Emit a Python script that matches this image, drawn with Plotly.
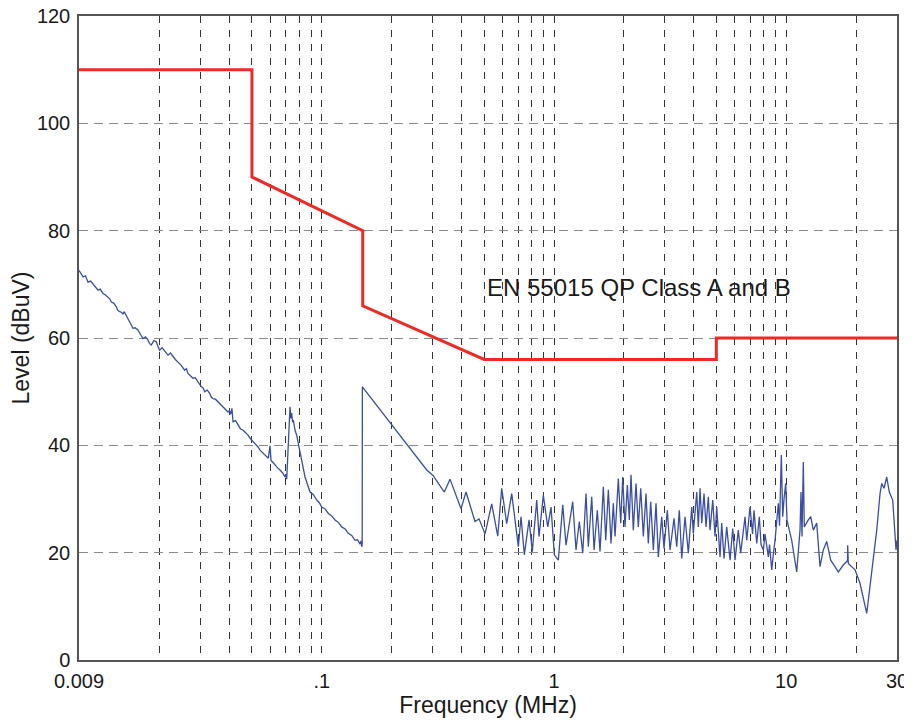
import plotly.graph_objects as go

# EN 55015 quasi-peak limit line
limit_freq = [0.009, 0.05, 0.05, 0.15, 0.15, 0.5, 5, 5, 30]
limit_level = [110, 110, 90, 80, 66, 56, 56, 60, 60]

# Measured conducted emission (MHz, dBuV)
meas_freq = [
    0.0090, 0.00915, 0.00937, 0.0096, 0.00984, 0.0101, 0.01034, 0.0106, 0.01087, 0.0111,
    0.01142, 0.0117, 0.0120, 0.0122, 0.01240, 0.0127, 0.01303, 0.0132, 0.01347, 0.0137,
    0.01392, 0.0141, 0.01438, 0.0146, 0.01488, 0.0151, 0.01537, 0.0157, 0.01615, 0.0166,
    0.01698, 0.0174, 0.01784, 0.0181, 0.01843, 0.0189, 0.01936, 0.0197, 0.02002, 0.0205,
    0.02104, 0.0214, 0.02175, 0.0223, 0.02285, 0.0234, 0.02402, 0.0248, 0.02566, 0.0261,
    0.02652, 0.0271, 0.02787, 0.0285, 0.02929, 0.0298, 0.03027, 0.0308, 0.03131, 0.0321,
    0.03290, 0.0334, 0.03400, 0.0348, 0.03573, 0.0366, 0.03754, 0.0385, 0.03945, 0.0400,
    0.04053, 0.0410, 0.04146, 0.0425, 0.04357, 0.0446, 0.04578, 0.0469, 0.04811, 0.0493,
    0.05055, 0.0518, 0.05312, 0.05418, 0.0556, 0.05694, 0.0579, 0.05883, 0.05983, 0.06042,
    0.0616, 0.06285, 0.0645, 0.06607, 0.0677, 0.06942, 0.0700, 0.07060, 0.07174, 0.07295,
    0.07360, 0.07420, 0.0748, 0.07539, 0.07667, 0.0780, 0.07922, 0.0806, 0.08194, 0.0833,
    0.08465, 0.0866, 0.08897, 0.0920, 0.09506, 0.0975, 0.0999, 0.1030, 0.1067, 0.1100,
    0.1140, 0.1180, 0.1218, 0.1260, 0.1300, 0.1345, 0.1390, 0.1425, 0.1461, 0.1475,
    0.1485, 0.1492, 0.1495,
    0.2830, 0.3012, 0.3369, 0.3565, 0.3977, 0.4178, 0.4567, 0.4753, 0.5045, 0.5391,
    0.5723, 0.5952, 0.6256, 0.6574, 0.7019, 0.7209, 0.7449, 0.7806, 0.8063, 0.8424,
    0.8617, 0.8993, 0.9395, 0.9707, 1.003,
    1.0436, 1.0902, 1.1263, 1.2036, 1.2439, 1.2851, 1.3291, 1.3734, 1.4052, 1.4535,
    1.4869, 1.5361, 1.5779, 1.6308, 1.6701, 1.7136, 1.7600, 1.8006, 1.8311, 1.8920,
    1.9377, 1.9764, 2.0219, 2.0685, 2.1099, 2.1457, 2.1952, 2.2545, 2.3067, 2.3625,
    2.4242, 2.4900, 2.5474, 2.6091, 2.6772, 2.7497, 2.8131, 2.9093, 2.9764, 3.0754,
    3.1594, 3.2870, 3.3761, 3.4644, 3.5481, 3.6661, 3.7880, 3.9174, 3.9802, 4.1171,
    4.1823, 4.2541, 4.3262, 4.4259, 4.5144, 4.6185, 4.6968, 4.8249, 4.9361, 5.0198,
    5.1866, 5.2746, 5.3962, 5.5424, 5.7280, 5.8832, 6.0189, 6.2189, 6.3680, 6.6467,
    6.7593, 6.9842, 7.1601, 7.2665, 7.4639, 7.6590, 7.7889, 7.9687, 8.1037, 8.3733,
    8.4742, 8.6616, 8.8166, 8.9495, 9.2470, 9.3583, 9.5260, 9.6587, 9.7836, 9.9496,
    10.079, 10.209, 10.561, 11.096, 11.465, 11.579, 11.695, 11.846, 11.964, 12.449,
    12.750, 13.083, 13.530, 13.980, 14.446, 14.941, 15.544, 16.221, 16.763, 17.615,
    18.365, 18.399, 18.508, 19.784, 20.786, 22.219, 23.349, 24.537, 25.354, 25.783,
    26.377, 27.092, 27.797, 28.750, 29.707, 30.0,
]
meas_level = [
    72.6, 72.0, 71.4, 71.6, 70.4, 70.6, 70.0, 69.6, 68.9, 69.1,
    68.3, 68.0, 67.5, 67.3, 66.7, 66.5, 65.8, 65.2, 64.9, 64.8,
    64.5, 64.9, 64.2, 63.6, 63.0, 62.4, 61.8, 61.9, 61.5, 60.6,
    59.9, 60.2, 59.6, 59.0, 58.7, 59.5, 59.3, 58.4, 57.7, 58.2,
    57.6, 57.0, 56.8, 57.2, 56.5, 56.0, 55.5, 54.9, 54.0, 54.3,
    53.4, 53.0, 52.5, 52.6, 51.8, 51.5, 50.9, 50.7, 50.0, 50.3,
    49.7, 49.0, 48.7, 48.6, 48.1, 47.5, 47.2, 46.6, 46.2, 46.5,
    45.8, 46.9, 44.4, 44.6, 43.8, 43.1, 42.8, 42.4, 41.9, 41.2,
    40.7, 40.3, 39.7, 39.1, 38.6, 38.2, 37.9, 37.6, 39.9, 37.2,
    36.8, 36.3, 35.8, 35.4, 34.9, 34.1, 34.6, 33.7, 40.3, 47.2,
    45.0, 46.0, 44.3, 44.7, 42.8, 41.8, 40.3, 38.8, 37.2, 35.5,
    34.1, 32.8, 31.3, 30.8, 29.8, 29.3, 28.5, 28.2, 27.3, 26.9,
    26.1, 25.6, 24.8, 24.4, 23.6, 23.2, 22.3, 22.4, 21.6, 22.2,
    21.1, 21.5, 50.9,
    35.4, 34.4, 31.3, 33.7, 28.2, 31.3, 25.8, 26.3, 23.5, 29.1,
    23.1, 32.0, 25.4, 31.0, 21.1, 26.7, 19.6, 26.1, 20.2, 29.8,
    23.0, 30.7, 24.8, 28.5, 19.6,
    18.6, 28.9, 21.4, 29.5, 20.5, 25.8, 19.9, 31.0, 21.1, 30.4,
    20.5, 27.9, 20.2, 32.3, 22.3, 31.7, 21.7, 29.2, 23.0, 33.8,
    25.5, 34.1, 24.8, 32.6, 26.1, 34.5, 24.2, 32.9, 24.8, 32.0,
    23.0, 31.0, 21.7, 29.5, 20.5, 29.2, 19.2, 26.7, 20.8, 27.9,
    20.5, 26.4, 21.1, 27.9, 18.9, 26.7, 19.9, 28.5, 23.6, 31.3,
    24.8, 32.0, 25.5, 31.0, 24.8, 30.4, 24.2, 29.8, 23.0, 28.5,
    19.2, 25.5, 18.9, 24.8, 18.6, 24.5, 18.6, 24.2, 19.9, 26.7,
    22.3, 28.5, 23.5, 27.9, 21.7, 26.7, 21.5, 20.5, 23.5, 19.2,
    21.5, 16.8, 20.0, 22.3, 29.2, 25.0, 38.2, 26.7, 30.0, 32.9,
    26.0, 24.8, 22.3, 16.4, 24.2, 31.3, 23.0, 36.9, 24.8, 26.1,
    26.7, 24.2, 25.5, 17.4, 20.5, 22.1, 18.6, 17.4, 16.4, 17.7,
    18.5, 21.4, 18.0, 16.8, 14.3, 8.7, 16.1, 24.2, 31.0, 32.9,
    32.0, 34.1, 31.3, 29.8, 20.5, 22.3,
]

x_tick_vals = [0.009, 0.1, 1, 10, 30]
x_tick_text = ["0.009", ".1", "1", "10", "30"]
x_minor_vals = [0.02, 0.03, 0.04, 0.05, 0.06, 0.07, 0.08, 0.09,
                0.2, 0.3, 0.4, 0.5, 0.6, 0.7, 0.8, 0.9,
                2, 3, 4, 5, 6, 7, 8, 9, 20]
y_tick_vals = [0, 20, 40, 60, 80, 100, 120]

FONT = "Liberation Sans, Arial, Helvetica, sans-serif"

fig = go.Figure()
fig.add_trace(go.Scatter(
    x=meas_freq, y=meas_level, mode="lines",
    line=dict(color="#3b4ea2", width=1.3), showlegend=False, hoverinfo="skip"))
fig.add_trace(go.Scatter(
    x=limit_freq, y=limit_level, mode="lines",
    line=dict(color="#ee2a27", width=3), showlegend=False, hoverinfo="skip"))

fig.add_annotation(x=-0.2976, y=69.5, xref="x", yref="y",
                   text="EN 55015 QP Class A and B", showarrow=False,
                   xanchor="left", yanchor="middle",
                   font=dict(family=FONT, size=24, color="#1a1a1a"))

# the page body adds an 8 px offset, so the figure is sized to sit inside the window
fig.update_layout(
    width=904, height=714,
    margin=dict(l=71, r=15, t=8, b=62),
    paper_bgcolor="white", plot_bgcolor="white",
    font=dict(family=FONT, size=20, color="#1a1a1a"),
    xaxis=dict(
        type="log", range=[-2.0458, 1.4771], automargin=False,
        tickmode="array", tickvals=x_tick_vals, ticktext=x_tick_text,
        showgrid=True, gridcolor="#333333", griddash="7px,7px", gridwidth=1,
        minor=dict(tickmode="array", tickvals=x_minor_vals, showgrid=True,
                   gridcolor="#333333", griddash="7px,7px", gridwidth=1, ticks=""),
        showline=True, linecolor="#555555", linewidth=1.5, mirror=True,
        ticks="", zeroline=False, ticklabelstandoff=2, ticklabeloverflow="allow",
        title=dict(text="Frequency (MHz)", font=dict(size=23), standoff=1),
    ),
    yaxis=dict(
        range=[0, 120], tickmode="array", tickvals=y_tick_vals, automargin=False,
        showgrid=True, gridcolor="#8a8a8a", griddash="9px,6px", gridwidth=1,
        showline=True, linecolor="#555555", linewidth=1.5, mirror=True,
        ticks="", zeroline=False, ticklabelstandoff=3, ticklabeloverflow="allow",
        title=dict(text="Level (dBuV)", font=dict(size=23), standoff=8),
    ),
)

fig.write_html("out.html")
